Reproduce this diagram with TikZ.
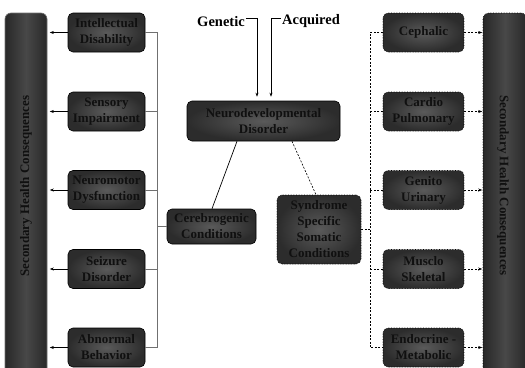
\documentclass[tikz,border=0pt]{standalone}
\usepackage{fontspec}
\setmainfont{Liberation Serif}
\usetikzlibrary{arrows.meta}
\definecolor{textc}{HTML}{101010}
\definecolor{boxin}{HTML}{5A5A5A}
\definecolor{boxout}{HTML}{2C2C2C}
\definecolor{barmid}{HTML}{484848}
\definecolor{baredge}{HTML}{282828}
\definecolor{glin}{HTML}{707070}
\begin{document}
\begin{tikzpicture}[x=1pt,y=-1pt,
  txt/.style={font=\fontsize{13}{16}\selectfont\bfseries, text=textc, align=center},
  box/.style={txt, rounded corners=5pt, draw=black, line width=0.6pt, shading=radial, inner color=boxin, outer color=boxout, inner sep=0pt},
  lbox/.style={box, minimum width=77pt, minimum height=39pt},
  rbox/.style={box, densely dotted, minimum width=81pt, minimum height=39pt},
  barbox/.style={rounded corners=6pt, line width=0.6pt, left color=baredge, right color=baredge, middle color=barmid, inner sep=0pt},
  bartxt/.style={txt},
  toptxt/.style={font=\fontsize{14.5}{17}\selectfont\bfseries, text=black, inner sep=1pt},
  arr/.style={-{Stealth[length=4pt,width=3pt]}, line width=0.6pt},
  gline/.style={draw=glin, line width=0.7pt},
  dline/.style={line width=0.6pt, dash pattern=on 2pt off 1.5pt},
]
\useasboundingbox (0,0) rectangle (525,367);
\clip (0,0) rectangle (525,367);
% bars
\node[barbox, draw=glin, minimum width=42pt, minimum height=362pt] (lb) at (26,194) {};
\node[bartxt, rotate=90] (lbt) at (26,186) {Secondary Health Consequences};
\node[barbox, draw=black, densely dotted, minimum width=44pt, minimum height=362pt] (rb) at (505,194) {};
\node[bartxt, rotate=-90] (rbt) at (503,185.5) {Secondary Health Consequences};
% left boxes
\node[lbox] (l1) at (106.5,32.5) {Intellectual\\Disability};
\node[lbox] (l2) at (106.5,111.5) {Sensory\\Impairment};
\node[lbox] (l3) at (106.5,190) {Neuromotor\\Dysfunction};
\node[lbox] (l4) at (106.5,269) {Seizure\\Disorder};
\node[lbox] (l5) at (106.5,347.5) {Abnormal\\Behavior};
% right boxes
\node[rbox] (r1) at (423.5,32.5) {Cephalic};
\node[rbox] (r2) at (423.5,111.5) {Cardio\\Pulmonary};
\node[rbox] (r3) at (423.5,190) {Genito\\Urinary};
\node[rbox] (r4) at (423.5,269) {Musclo\\Skeletal};
\node[rbox] (r5) at (423.5,347.5) {Endocrine -\\Metabolic};
% centre
\node[box, minimum width=153pt, minimum height=40pt] (ndd) at (263.5,121) {Neurodevelopmental\\Disorder};
\node[box, minimum width=89pt, minimum height=35pt] (cer) at (211.5,226.5) {Cerebrogenic\\Conditions};
\node[box, densely dotted, minimum width=84pt, minimum height=69pt] (syn) at (319,229.5) {Syndrome\\Specific\\Somatic\\Conditions};
\node[toptxt] (gen) at (221,21.5) {Genetic};
\node[toptxt] (acq) at (311,21.5) {Acquired};
% top arrows
\draw[arr, shorten >=4pt] ([yshift=3pt]gen.east) -| ([xshift=-6.5pt]ndd.north);
\draw[arr, shorten >=4pt] ([yshift=3pt]acq.west) -| ([xshift=7.5pt]ndd.north);
% centre links
\draw[line width=0.7pt] ([xshift=-26.5pt]ndd.south) -- ([xshift=0.5pt]cer.north);
\draw[dline] ([xshift=28.5pt]ndd.south) -- ([xshift=-3pt]syn.north);
% left spine
\coordinate (ls) at (157,0);
\draw[gline] (l1.east) -- (l1.east -| ls) -- (l5.east -| ls) -- (l5.east);
\foreach \n in {l2,l3,l4} \draw[gline] (\n.east) -- (\n.east -| ls);
\draw[gline] (cer.west) -- (cer.west -| ls);
\foreach \n in {l1,l2,l3,l4,l5} \draw[arr, shorten >=2.5pt] (\n.west) -- (\n.west -| lb.east);
% right spine
\coordinate (rs) at (370,0);
\draw[dline] (r1.west) -- (r1.west -| rs) -- (r5.west -| rs) -- (r5.west);
\foreach \n in {r2,r3,r4} \draw[dline] (\n.west) -- (\n.west -| rs);
\draw[dline] (syn.east) -- (syn.east -| rs);
\foreach \n in {r1,r2,r3,r4,r5} \draw[dline, arr, dash pattern=on 2pt off 1.5pt, shorten >=0.5pt] (\n.east) -- (\n.east -| rb.west);
\end{tikzpicture}
\end{document}
